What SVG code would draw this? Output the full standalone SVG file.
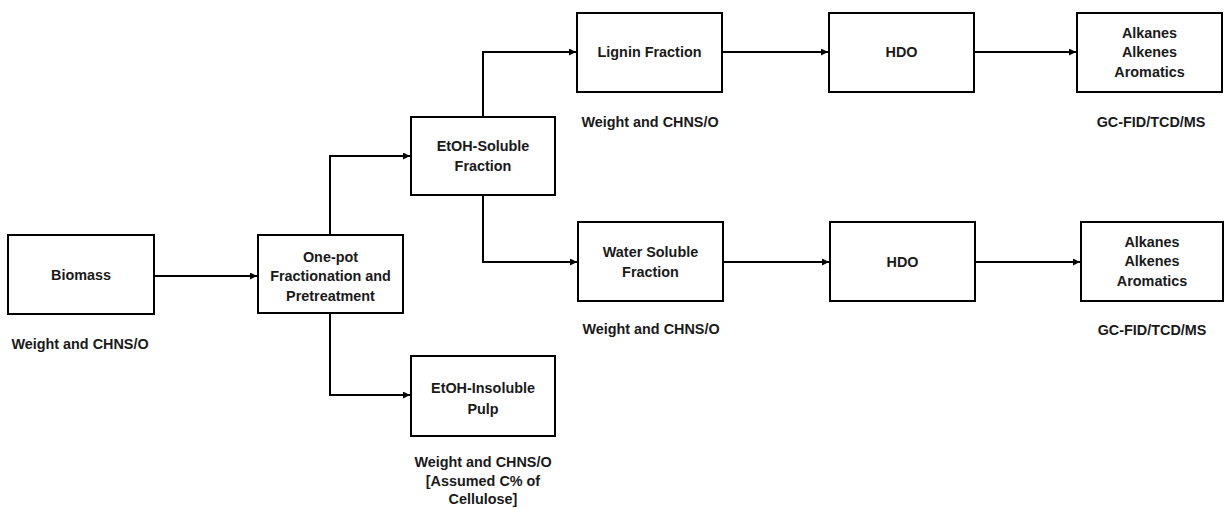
<svg xmlns="http://www.w3.org/2000/svg" width="1225" height="509" viewBox="0 0 1225 509">
<style>
.box{fill:#fff;stroke:#000;stroke-width:2}
.t{font-family:"Liberation Sans",Arial,sans-serif;font-weight:bold;font-size:14.4px;fill:#1a1a1a;text-anchor:middle}
.c{fill:none;stroke:#000;stroke-width:2}
</style>
<defs>
<marker id="ah" viewBox="0 0 10 10" refX="10" refY="5" markerWidth="3.5" markerHeight="3.5" orient="auto" markerUnits="strokeWidth">
<path d="M0,0 L10,5 L0,10 z" fill="#000"/>
</marker>
</defs>
<rect width="1225" height="509" fill="#fff"/>
<g id="connectors">
<path class="c" d="M154,276 H257" marker-end="url(#ah)"/>
<path class="c" d="M330,235 V156 H410" marker-end="url(#ah)"/>
<path class="c" d="M330,313 V395 H410" marker-end="url(#ah)"/>
<path class="c" d="M483,117 V52 H576" marker-end="url(#ah)"/>
<path class="c" d="M483,195 V262 H577" marker-end="url(#ah)"/>
<path class="c" d="M722,52 H828" marker-end="url(#ah)"/>
<path class="c" d="M974,52 H1076" marker-end="url(#ah)"/>
<path class="c" d="M723,262 H829" marker-end="url(#ah)"/>
<path class="c" d="M975,262 H1080" marker-end="url(#ah)"/>
</g>
<g id="biomass">
<rect class="box" x="8" y="235" width="146" height="79"/>
<text class="t" x="81" y="280">Biomass</text>
<text class="t" x="80" y="349">Weight and CHNS/O</text>
</g>
<g id="onepot">
<rect class="box" x="258" y="235" width="145" height="78"/>
<text class="t" x="330.5" y="262">One-pot</text>
<text class="t" x="330.5" y="281">Fractionation and</text>
<text class="t" x="330.5" y="301">Pretreatment</text>
</g>
<g id="etoh-soluble">
<rect class="box" x="411" y="117" width="144" height="78"/>
<text class="t" x="483" y="151">EtOH-Soluble</text>
<text class="t" x="483" y="171">Fraction</text>
</g>
<g id="etoh-insoluble">
<rect class="box" x="411" y="356" width="144" height="80"/>
<text class="t" x="483" y="393">EtOH-Insoluble</text>
<text class="t" x="483" y="414">Pulp</text>
<text class="t" x="483" y="467">Weight and CHNS/O</text>
<text class="t" x="483" y="486">[Assumed C% of</text>
<text class="t" x="483" y="504">Cellulose]</text>
</g>
<g id="lignin">
<rect class="box" x="577" y="13" width="145" height="79"/>
<text class="t" x="649.5" y="57">Lignin Fraction</text>
<text class="t" x="650" y="127">Weight and CHNS/O</text>
</g>
<g id="water">
<rect class="box" x="578" y="222" width="145" height="79"/>
<text class="t" x="650.5" y="257">Water Soluble</text>
<text class="t" x="650.5" y="277">Fraction</text>
<text class="t" x="651" y="334">Weight and CHNS/O</text>
</g>
<g id="hdo1">
<rect class="box" x="829" y="13" width="145" height="79"/>
<text class="t" x="901.5" y="57">HDO</text>
</g>
<g id="hdo2">
<rect class="box" x="830" y="222" width="145" height="79"/>
<text class="t" x="902.5" y="267">HDO</text>
</g>
<g id="products1">
<rect class="box" x="1077" y="13" width="145" height="79"/>
<text class="t" x="1149.5" y="38">Alkanes</text>
<text class="t" x="1149.5" y="57">Alkenes</text>
<text class="t" x="1149.5" y="77">Aromatics</text>
<text class="t" x="1151" y="127">GC-FID/TCD/MS</text>
</g>
<g id="products2">
<rect class="box" x="1081" y="222" width="142" height="79"/>
<text class="t" x="1152" y="247">Alkanes</text>
<text class="t" x="1152" y="266">Alkenes</text>
<text class="t" x="1152" y="286">Aromatics</text>
<text class="t" x="1152" y="335">GC-FID/TCD/MS</text>
</g>
</svg>
